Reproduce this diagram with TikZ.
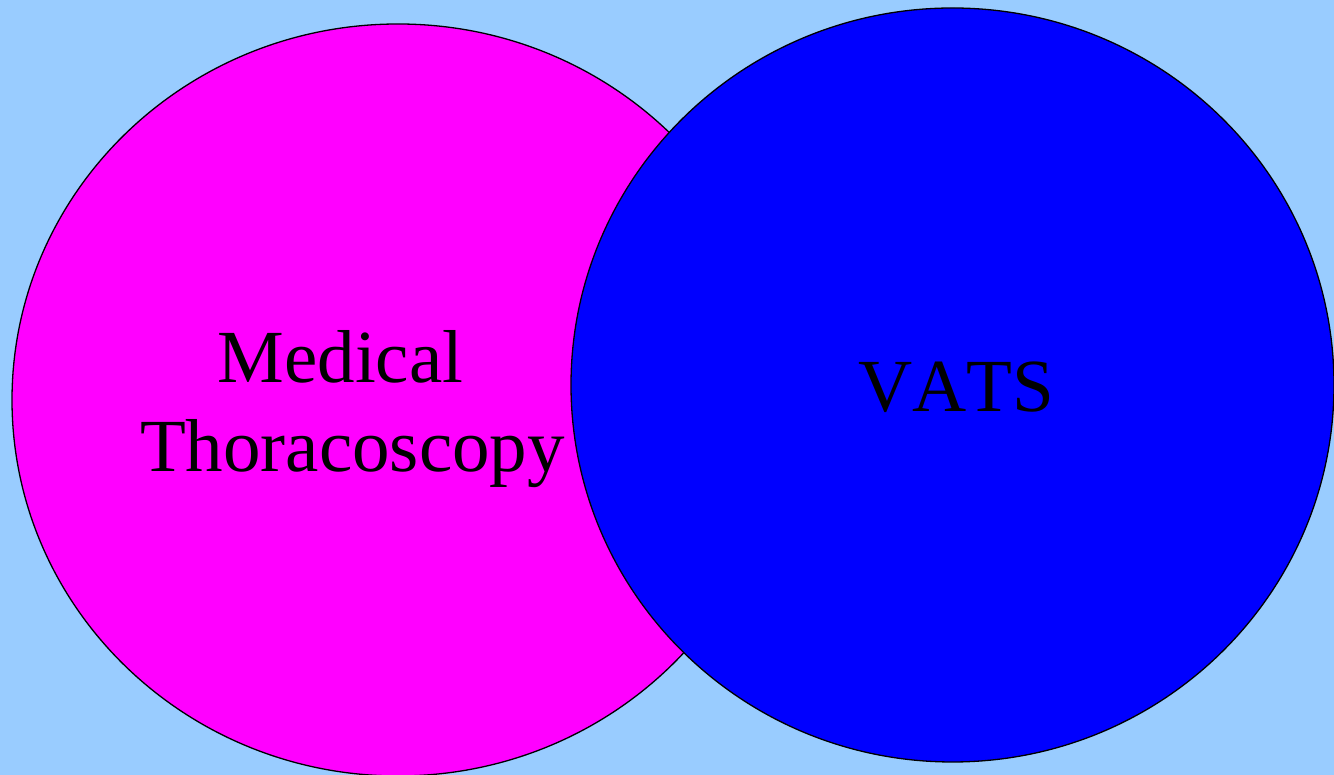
\documentclass[tikz,border=0pt]{standalone}
\usepackage{fontspec}
\setmainfont{Liberation Serif}[Kerning=Off]
\definecolor{bgblue}{HTML}{99CCFF}
\definecolor{mag}{HTML}{FF00FF}
\definecolor{vblue}{HTML}{0000FF}
\begin{document}
\begin{tikzpicture}[x=1pt,y=1pt,
  venn/.style={draw=black,line width=1.3pt},
  lbl/.style={font=\fontsize{75}{88}\selectfont,text=black,inner sep=0pt,align=center}]
\fill[bgblue] (0,0) rectangle (1334,775);
\useasboundingbox (0,0) rectangle (1334,775);
\draw[venn,fill=mag] (398,375) ellipse [x radius=386,y radius=376];
\draw[venn,fill=vblue] (952.5,390) ellipse [x radius=381.5,y radius=377];
\node[lbl,anchor=base] (med) at (340.5,392) {Medical};
\node[lbl,anchor=base] (tho) at (352.5,303) {Thoracoscopy};
\node[lbl,anchor=base] (vats) at (956,363) {VATS};
\end{tikzpicture}
\end{document}
